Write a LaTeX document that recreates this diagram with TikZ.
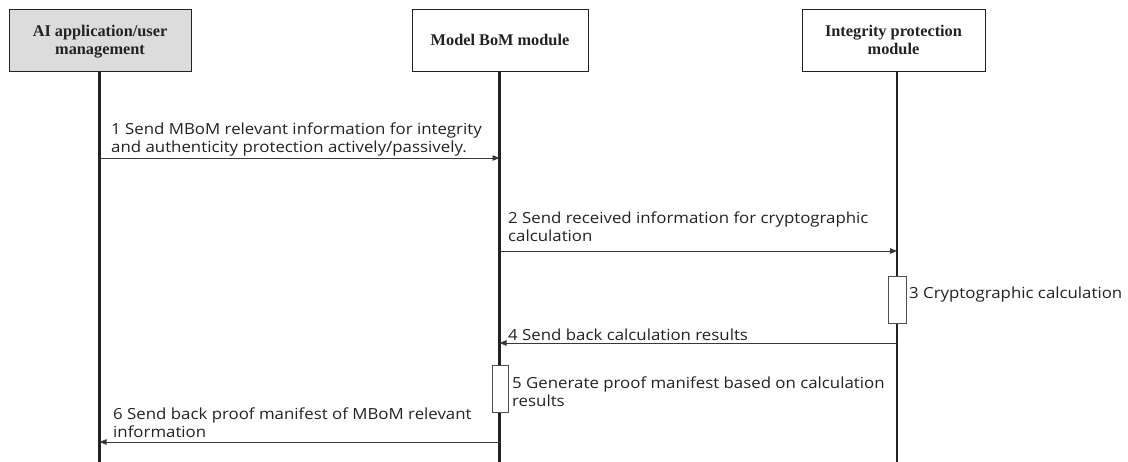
\documentclass[tikz,border=0pt]{standalone}
\usepackage{fontspec}
\setmainfont{Liberation Serif}
\newfontfamily\msgfont[FakeStretch=1.1]{Open Sans}
\usetikzlibrary{arrows.meta}
\definecolor{ink}{HTML}{222222}
\definecolor{actorgray}{HTML}{DCDCDC}
\begin{document}
\begin{tikzpicture}[x=1pt,y=-1pt,
  actor/.style={draw=ink,line width=0.9pt,minimum height=62pt,inner sep=0pt,
    text depth=0pt,align=center,text=ink,font=\fontsize{16.3}{18.3}\selectfont\bfseries},
  lifeline/.style={draw=ink,line width=2.2pt},
  msg/.style={draw=ink!90,line width=0.9pt,-{Triangle[length=7pt,width=5.5pt]}},
  msgtext/.style={inner sep=0pt,text depth=0pt,align=left,text=ink,
    font=\msgfont\fontsize{15.3}{18.3}\selectfont},
  activation/.style={draw=ink!80,line width=0.8pt,fill=white,inner sep=0pt}]
  \useasboundingbox (0,0) rectangle (1128,462);

  % participants
  \node[actor,fill=actorgray,minimum width=182pt] (app) at (100,40) {AI application/user\\management};
  \node[actor,fill=white,minimum width=176pt] (mbom) at (500,40) {Model BoM module};
  \node[actor,fill=white,minimum width=183pt] (ipm) at (893.5,40) {Integrity protection\\module};

  % lifelines
  \coordinate (appTop) at (99.5,71);  \coordinate (appBot) at (99.5,462);
  \coordinate (mbomTop) at (499.5,71); \coordinate (mbomBot) at (499.5,462);
  \coordinate (ipmTop) at (897,71);    \coordinate (ipmBot) at (897,462);
  \draw[lifeline] (appTop) -- (appBot);
  \draw[lifeline] (mbomTop) -- (mbomBot);
  \draw[lifeline] (ipmTop) -- (ipmBot);

  % activation bars
  \node[activation,minimum width=18pt,minimum height=47pt] (act3) at (897,299.5) {};
  \node[activation,minimum width=16pt,minimum height=47pt] (act5) at (500,388.5) {};

  % message end points on the lifelines
  \coordinate (m1a) at (99.5,158);  \coordinate (m1b) at (499.5,158);
  \coordinate (m2a) at (499.5,251); \coordinate (m2b) at (897,251);
  \coordinate (m4a) at (897,343);   \coordinate (m4b) at (499.5,343);
  \coordinate (m6a) at (499.5,442); \coordinate (m6b) at (99.5,442);

  \draw[msg] (m1a) -- (m1b);
  \draw[msg] (m2a) -- (m2b);
  \draw[msg] (m4a) -- (m4b);
  \draw[msg] (m6a) -- (m6b);

  % labels (south = baseline of the last line)
  \node[msgtext,anchor=south west] (t1) at (111,153) {1 Send MBoM relevant information for integrity\\and authenticity protection actively/passively.};
  \node[msgtext,anchor=south west] (t2) at (508,242) {2 Send received information for cryptographic\\calculation};
  \node[msgtext,anchor=south west] (t3) at (909,299) {3 Cryptographic calculation};
  \node[msgtext,anchor=south west] (t4) at (508,340.5) {4 Send back calculation results};
  \node[msgtext,anchor=south west] (t5) at (512,407) {5 Generate proof manifest based on calculation\\results};
  \node[msgtext,anchor=south west] (t6) at (113,438) {6 Send back proof manifest of MBoM relevant\\information};
\end{tikzpicture}
\end{document}
